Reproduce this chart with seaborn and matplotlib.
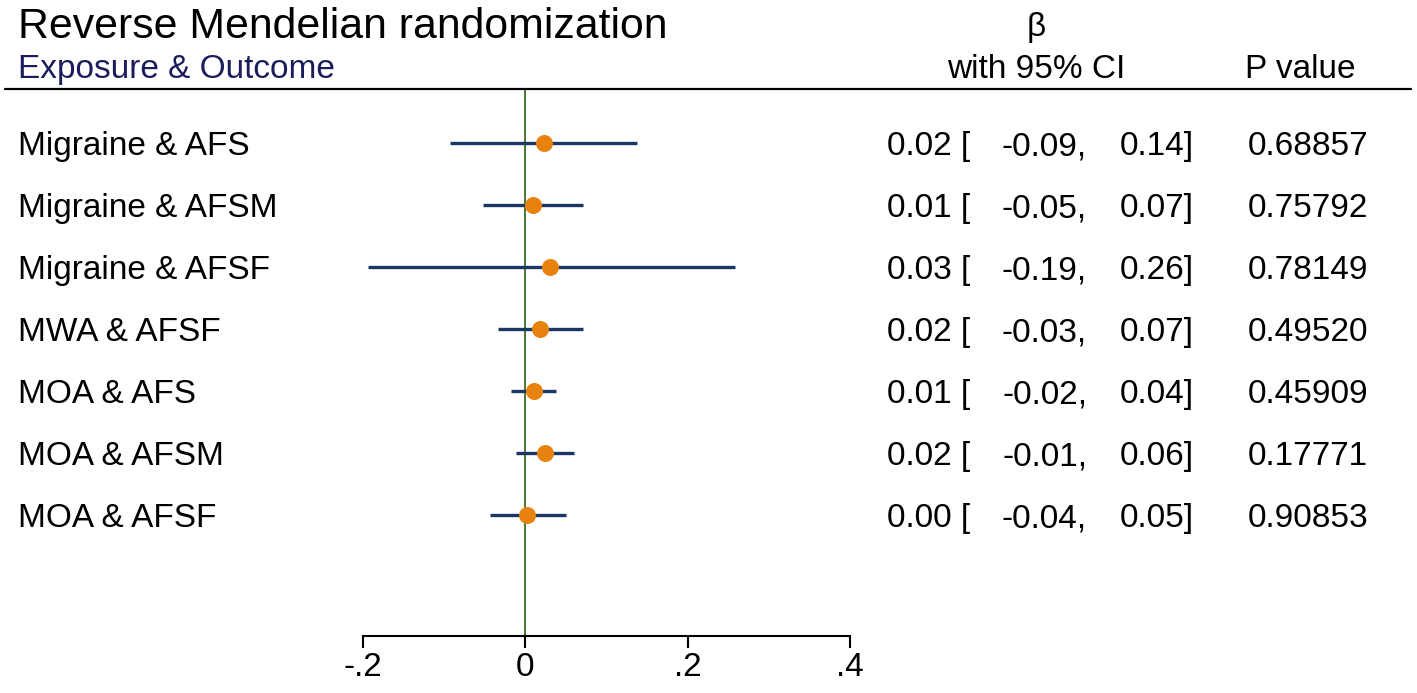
import matplotlib
matplotlib.use("Agg")
import matplotlib.pyplot as plt
import matplotlib.transforms as mtransforms
from matplotlib.lines import Line2D
import pandas as pd
import seaborn as sns

# data
pairs = ["Migraine & AFS", "Migraine & AFSM", "Migraine & AFSF", "MWA & AFSF",
         "MOA & AFS", "MOA & AFSM", "MOA & AFSF"]
beta = [0.023, 0.010, 0.031, 0.018, 0.011, 0.024, 0.002]
lower = [-0.093, -0.052, -0.194, -0.034, -0.018, -0.012, -0.044]
upper = [0.138, 0.071, 0.258, 0.071, 0.038, 0.060, 0.050]
pvals = ["0.68857", "0.75792", "0.78149", "0.49520", "0.45909", "0.17771", "0.90853"]
xticks = [-0.2, 0, 0.2, 0.4]
xticklabels = ["-.2", "0", ".2", ".4"]

df = pd.DataFrame({"pair": pairs, "beta": beta, "lo": lower, "hi": upper, "p": pvals})
df["row"] = range(1, len(df) + 1)

sns.set_style("white")
plt.rcParams["font.family"] = ["Liberation Sans", "DejaVu Sans"]
plt.rcParams["text.color"] = "black"

W, H = 1417, 693
fig = plt.figure(figsize=(W / 100, H / 100), dpi=100)

def fx(px):
    return px / W

def fy(py):
    return 1 - py / H

# axes: x from -.2 (px 363) to .4 (px 850), header line px 89 to axis px 636
ax = fig.add_axes([fx(363), fy(636), fx(850) - fx(363), fy(89) - fy(636)])

navy = "#1b3766"
orange = "#e8820e"
green = "#3b6b22"

ax.axvline(0, color=green, lw=1.3, zorder=1)
ax.hlines(df["row"], df["lo"], df["hi"], color=navy, lw=2.4, zorder=2)
sns.scatterplot(data=df, x="beta", y="row", ax=ax, color=orange, s=150,
                edgecolor=orange, linewidth=0, zorder=3, legend=False)

ax.set_xlim(-0.2, 0.4)
ax.set_ylim(1 + (636 - 143) / 62, 1 + (89 - 143) / 62)
ax.set_xticks(xticks)
ax.set_xticklabels(xticklabels, fontsize=24)
ax.set_yticks([])
ax.set_xlabel("")
ax.set_ylabel("")
for s in ["top", "left", "right"]:
    ax.spines[s].set_visible(False)
ax.spines["bottom"].set_linewidth(1.5)
ax.spines["bottom"].set_color("black")
ax.tick_params(axis="x", bottom=True, direction="out", length=8.5, width=1.5, pad=3,
               color="black", labelcolor="black")
ax.patch.set_alpha(0)

# text columns: x in figure fraction, y in data rows
tr = mtransforms.blended_transform_factory(fig.transFigure, ax.transData)
fs = 24
for _, r in df.iterrows():
    y = r["row"]
    fig.text(fx(18), y, r["pair"], transform=tr, fontsize=fs, va="center_baseline", ha="left")
    fig.text(fx(970), y, f"{r['beta']:.2f} [", transform=tr, fontsize=fs, va="center_baseline", ha="right")
    fig.text(fx(1087), y, f"{r['lo']:.2f},", transform=tr, fontsize=fs, va="center_baseline", ha="right")
    fig.text(fx(1194), y, f"{r['hi']:.2f}]", transform=tr, fontsize=fs, va="center_baseline", ha="right")
    fig.text(fx(1368), y, r["p"], transform=tr, fontsize=fs, va="center_baseline", ha="right")

# header
fig.text(fx(18), fy(22), "Reverse Mendelian randomization", fontsize=30.8, va="center_baseline", ha="left")
fig.text(fx(18), fy(66), "Exposure & Outcome", fontsize=fs, color="#1c1c5c", va="center_baseline", ha="left")
fig.text(fx(1036), fy(24), "β", fontsize=fs, va="center_baseline", ha="center")
fig.text(fx(1036), fy(66), "with 95% CI", fontsize=fs, va="center_baseline", ha="center")
fig.text(fx(1300), fy(66), "P value", fontsize=fs, va="center_baseline", ha="center")
fig.add_artist(Line2D([fx(5), fx(1411)], [fy(89), fy(89)], transform=fig.transFigure,
                      color="black", lw=1.6))

fig.savefig("out.png", dpi=100, facecolor="white")
